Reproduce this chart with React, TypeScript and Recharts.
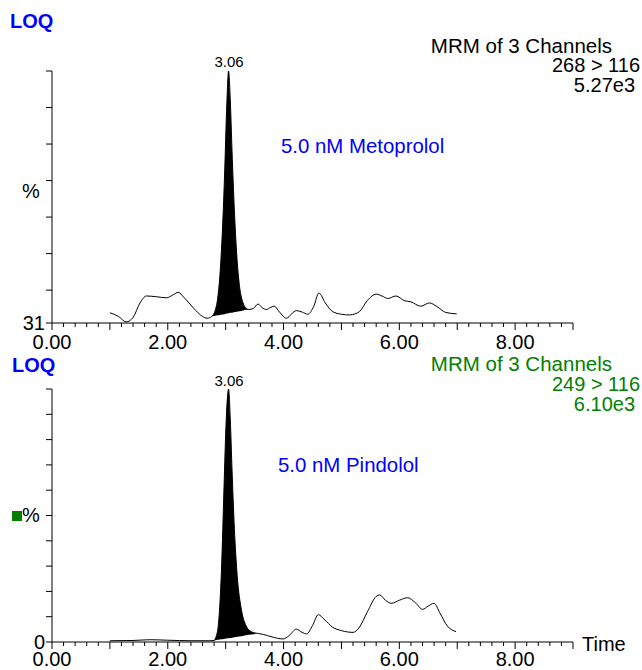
import { ComposedChart, Line, Area, XAxis, YAxis } from "recharts";

const FONT = '"Liberation Sans", Arial, Helvetica, sans-serif';

// upper trace: Metoprolol, MRM 268 > 116, % of 5.27e3
const metoTime = [
  1.0, 1.15, 1.28, 1.4, 1.52, 1.63, 1.8, 1.98, 2.1, 2.18, 2.28, 2.45, 2.6, 2.68,
  2.76, 2.82, 2.86, 2.9, 2.94, 2.98, 3.02, 3.05, 3.08, 3.11, 3.15, 3.19, 3.24, 3.3, 3.36, 3.4,
  3.48, 3.56, 3.63, 3.7, 3.78, 3.84, 3.93, 4.05, 4.14, 4.22, 4.32, 4.42, 4.52, 4.61, 4.72,
  4.85, 5.0, 5.14, 5.25, 5.31, 5.45, 5.6, 5.7, 5.8, 5.94, 6.09, 6.2, 6.37, 6.52, 6.65, 6.8, 6.99,
];
const metoPct = [
  33.8, 32.8, 31.3, 32.5, 36.5, 38.4, 38.2, 37.9, 38.8, 39.4, 38.0, 35.0, 32.8, 32.3,
  32.8, 34.5, 37.5, 44, 55, 71, 91, 100, 92, 78, 62, 50, 41, 36.5, 35.0, 34.7,
  35.0, 36.2, 35.2, 34.7, 35.3, 35.6, 34.0, 32.3, 33.5, 34.4, 34.0, 33.4, 35.5, 39.2, 36.5,
  34.1, 33.4, 33.2, 33.6, 34.1, 37.2, 38.9, 38.4, 37.7, 38.4, 37.1, 36.8, 35.6, 36.5, 35.5, 33.9, 33.5,
];
const metoPeakTime = [2.76, 2.82, 2.86, 2.9, 2.94, 2.98, 3.02, 3.05, 3.08, 3.11, 3.15, 3.19, 3.24, 3.3, 3.36, 3.4];
const metoPeakBase = [32.8, 33.0, 33.1, 33.2, 33.3, 33.4, 33.6, 33.7, 33.8, 33.8, 34.0, 34.1, 34.2, 34.4, 34.6, 34.7];

// lower trace: Pindolol, MRM 249 > 116, % of 6.10e3
const pindoTime = [
  1.0, 1.4, 1.7, 2.0, 2.4, 2.72,
  2.8, 2.84, 2.87, 2.9, 2.93, 2.97, 3.01, 3.05, 3.08, 3.11, 3.15, 3.2, 3.27, 3.35, 3.45, 3.55,
  3.65, 3.8, 3.99, 4.1, 4.22, 4.32, 4.4, 4.5, 4.6, 4.7, 4.85, 5.0, 5.2, 5.3, 5.45, 5.6, 5.66,
  5.76, 5.86, 6.0, 6.14, 6.28, 6.4, 6.5, 6.6, 6.7, 6.83, 6.98,
];
const pindoPct = [
  0.5, 0.6, 0.9, 0.7, 0.5, 0.5,
  0.6, 2.5, 6, 15, 30, 60, 88, 100, 88, 68, 45, 26, 13, 6.5, 4.0, 3.4,
  3.0, 2.0, 1.2, 2.6, 5.1, 3.8, 3.2, 6.5, 10.8, 9.0, 5.8, 4.5, 3.8, 5.5, 12, 18.0, 18.6,
  16.5, 15.3, 16.5, 17.5, 15.5, 12.9, 14.2, 15.3, 11.5, 6.3, 4.1,
];
const pindoPeakTime = [2.8, 2.84, 2.87, 2.9, 2.93, 2.97, 3.01, 3.05, 3.08, 3.11, 3.15, 3.2, 3.27, 3.35, 3.45, 3.55];
const pindoPeakBase = [0.6, 0.8, 0.9, 1.0, 1.1, 1.2, 1.4, 1.5, 1.6, 1.7, 1.9, 2.1, 2.3, 2.7, 3.0, 3.4];

const xTickLabels = ["0.00", "2.00", "4.00", "6.00", "8.00"];
const xTicks = Array.from({ length: 46 }, (_, i) => i / 5);
const metoYTicks = [31, 40, 50, 60, 70, 80, 90, 100];
const pindoYTicks = [0, 10, 20, 30, 40, 50, 60, 70, 80, 90, 100];

function buildTrace(time: number[], pct: number[]) {
  return time.map((t, i) => ({ t, v: pct[i] }));
}

function buildPeak(time: number[], pct: number[], peakTime: number[], base: number[]) {
  return peakTime.map((t, i) => ({ t, range: [base[i], pct[time.indexOf(t)]] }));
}

function TimeTick(props: any) {
  const { x, y, payload, labelGap } = props;
  const v = payload.value;
  const whole = Math.abs(v - Math.round(v)) < 1e-6;
  const label = xTickLabels.find((l) => Math.abs(parseFloat(l) - v) < 1e-6);
  return (
    <g>
      <line x1={x} x2={x} y1={y} y2={y + (whole ? 7 : 4)} stroke="#000" />
      {label && (
        <text x={x} y={y + labelGap} textAnchor="middle" fontSize={20} fontFamily={FONT} fill="#000">
          {label}
        </text>
      )}
    </g>
  );
}

interface PanelProps {
  top: number;
  height: number;
  marginTop: number;
  marginBottom: number;
  axisHeight: number;
  labelGap: number;
  trace: { t: number; v: number }[];
  peak: { t: number; range: number[] }[];
  domain: [number, number];
  yTicks: number[];
}

function Panel(p: PanelProps) {
  return (
    <div style={{ position: "absolute", left: 0, top: p.top, width: 642, height: p.height }}>
      <ComposedChart
        width={642}
        height={p.height}
        margin={{ top: p.marginTop, right: 69, bottom: p.marginBottom, left: 0 }}
      >
        <XAxis
          dataKey="t"
          type="number"
          domain={[0, 9]}
          ticks={xTicks}
          interval={0}
          height={p.axisHeight}
          tickSize={0}
          tickMargin={0}
          tick={<TimeTick labelGap={p.labelGap} />}
          axisLine={{ stroke: "#000" }}
        />
        <YAxis
          type="number"
          domain={p.domain}
          ticks={p.yTicks}
          interval={0}
          width={52}
          tickSize={6}
          tickMargin={1}
          tickLine={{ stroke: "#000" }}
          axisLine={{ stroke: "#000" }}
          tick={{ fill: "#000", fontSize: 20, fontFamily: FONT }}
          tickFormatter={(v: number) => (v === p.domain[0] ? String(v) : "")}
        />
        <Area
          data={p.peak}
          dataKey="range"
          type="monotone"
          stroke="none"
          fill="#000"
          fillOpacity={1}
          isAnimationActive={false}
        />
        <Line
          data={p.trace}
          dataKey="v"
          type="monotone"
          stroke="#000"
          strokeWidth={1}
          dot={false}
          isAnimationActive={false}
        />
      </ComposedChart>
    </div>
  );
}

export default function App() {
  const blue = "#0000ff";
  const green = "#008000";
  return (
    <div style={{ position: "relative", width: 642, height: 670, fontFamily: FONT, background: "#fff" }}>
      <style>{"body{margin:0}"}</style>
      <Panel
        top={0}
        height={362}
        marginTop={71}
        marginBottom={12}
        axisHeight={27}
        labelGap={26}
        trace={buildTrace(metoTime, metoPct)}
        peak={buildPeak(metoTime, metoPct, metoPeakTime, metoPeakBase)}
        domain={[31, 100]}
        yTicks={metoYTicks}
      />
      <Panel
        top={350}
        height={320}
        marginTop={39}
        marginBottom={0}
        axisHeight={28}
        labelGap={24}
        trace={buildTrace(pindoTime, pindoPct)}
        peak={buildPeak(pindoTime, pindoPct, pindoPeakTime, pindoPeakBase)}
        domain={[0, 100]}
        yTicks={pindoYTicks}
      />
      <svg
        width={642}
        height={670}
        style={{ position: "absolute", left: 0, top: 0, pointerEvents: "none" }}
        fontFamily={FONT}
      >
        <text x={10} y={28} fontSize={20} fontWeight="bold" fill={blue}>LOQ</text>
        <text x={612} y={53} fontSize={20.5} textAnchor="end" fill="#000">MRM of 3 Channels</text>
        <text x={640} y={72} fontSize={20} textAnchor="end" fill="#000">268 &gt; 116</text>
        <text x={635} y={92} fontSize={20} textAnchor="end" fill="#000">5.27e3</text>
        <text x={229} y={67} fontSize={15} textAnchor="middle" fill="#000">3.06</text>
        <text x={281} y={153} fontSize={20.4} fill={blue}>5.0 nM Metoprolol</text>
        <text x={22} y={198} fontSize={20} fill="#000">%</text>

        <text x={12} y={372} fontSize={20} fontWeight="bold" fill={blue}>LOQ</text>
        <text x={612} y={371} fontSize={20.5} textAnchor="end" fill={green}>MRM of 3 Channels</text>
        <text x={640} y={391} fontSize={20} textAnchor="end" fill={green}>249 &gt; 116</text>
        <text x={635} y={411} fontSize={20} textAnchor="end" fill={green}>6.10e3</text>
        <text x={229} y={386} fontSize={15} textAnchor="middle" fill="#000">3.06</text>
        <text x={278} y={472} fontSize={20.4} fill={blue}>5.0 nM Pindolol</text>
        <rect x={12} y={511} width={10} height={10} fill={green} />
        <text x={22} y={522} fontSize={20} fill="#000">%</text>
        <text x={582} y={651} fontSize={20} fill="#000">Time</text>
      </svg>
    </div>
  );
}
